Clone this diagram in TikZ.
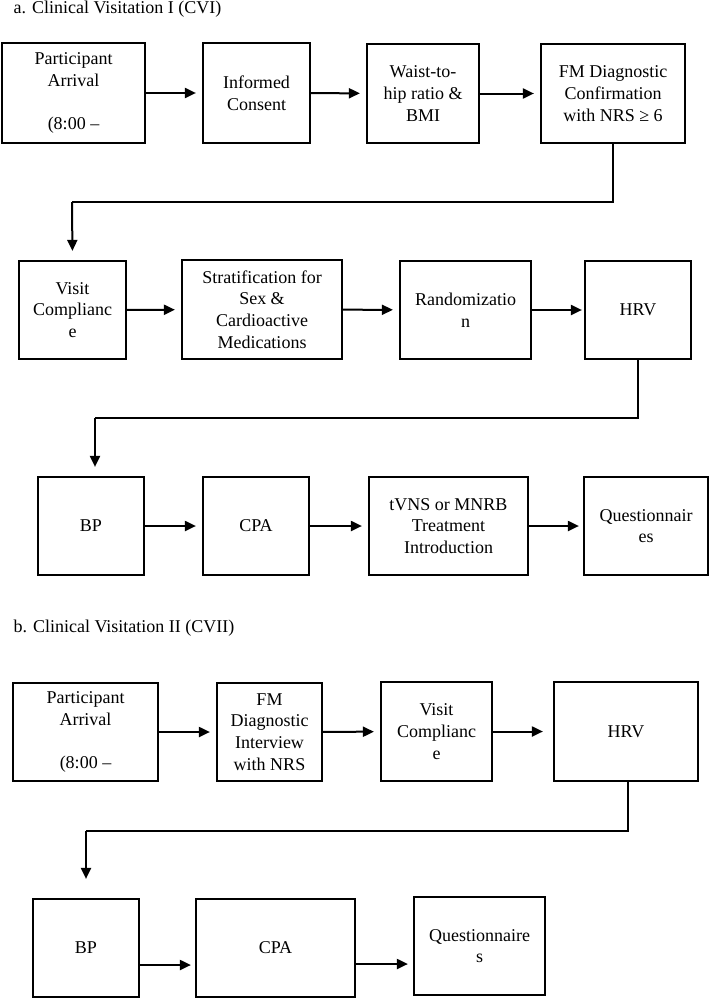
\documentclass[tikz,border=0pt]{standalone}
\usepackage{fontspec}
\setmainfont{Liberation Serif}
\usetikzlibrary{arrows.meta}
\begin{document}
\begin{tikzpicture}[
				x=1pt, y=-1pt,
				every node/.style={font=\fontsize{18}{21.7}\selectfont},
				box/.style={draw, line width=2.2pt, rectangle, align=center, inner sep=0pt},
				arr/.style={line width=2pt, -{Triangle[length=11pt,width=10pt]}, shorten >=6pt},
				elbow/.style={line width=1.3pt},
			]
			\useasboundingbox (0,0) rectangle (710,998);
			\node[anchor=base west] (titleA) at (10,14) {a. Clinical Visitation I (CVI)};
			\node[box, minimum width=143pt, minimum height=100pt] (arriveA) at (73.5,93) {Participant\\Arrival\\[21.7pt](8:00 --};
			\node[box, minimum width=107pt, minimum height=100pt] (consent) at (256.5,93) {Informed\\Consent};
			\node[box, minimum width=112pt, minimum height=99pt] (waist) at (423,93.5) {Waist-to-\\hip ratio \&\\BMI};
			\node[box, minimum width=144pt, minimum height=99pt] (fmconf) at (613,93.5) {FM Diagnostic\\Confirmation\\with NRS ≥ 6};
			\node[box, minimum width=107pt, minimum height=98pt] (complyA) at (72.5,310) {Visit\\Complianc\\e};
			\node[box, minimum width=160pt, minimum height=99pt] (strat) at (262,309.5) {Stratification for\\Sex \&\\Cardioactive\\Medications};
			\node[box, minimum width=131pt, minimum height=98pt] (random) at (465.5,310) {Randomizatio\\n};
			\node[box, minimum width=106pt, minimum height=98pt] (hrvA) at (638,310) {HRV};
			\node[box, minimum width=106pt, minimum height=98pt] (bpA) at (91,526) {BP};
			\node[box, minimum width=106pt, minimum height=98pt] (cpaA) at (256,526) {CPA};
			\node[box, minimum width=159pt, minimum height=98pt] (treat) at (448.5,526) {tVNS or MNRB\\Treatment\\Introduction};
			\node[box, minimum width=124pt, minimum height=98pt] (questA) at (646,526) {Questionnair\\es};
			\coordinate (bendA) at (72,202);
			\coordinate (bendB) at (95,418);
			\draw[arr] (arriveA) -- (consent);
			\draw[arr] (consent) -- (waist);
			\draw[arr] (waist) -- (fmconf);
			\draw[elbow] (fmconf.south) |- (bendA);
			\draw[arr, shorten >=9pt] (bendA) -- (complyA.north);
			\draw[arr] (complyA) -- (strat);
			\draw[arr] (strat) -- (random);
			\draw[arr, shorten >=2pt] (random) -- (hrvA);
			\draw[elbow] (hrvA.south) |- (bendB);
			\draw[arr, shorten >=9pt] (bendB) -- (bendB |- bpA.north);
			\draw[arr] (bpA) -- (cpaA);
			\draw[arr] (cpaA) -- (treat);
			\draw[arr, shorten >=4pt] (treat) -- (questA);
			\node[anchor=base west] (titleB) at (10,632) {b. Clinical Visitation II (CVII)};
			\node[box, minimum width=145pt, minimum height=98pt] (arriveB) at (85.5,732) {Participant\\Arrival\\[21.7pt](8:00 --};
			\node[box, minimum width=105pt, minimum height=98pt] (fmint) at (269.5,732) {FM\\Diagnostic\\Interview\\with NRS};
			\node[box, minimum width=111pt, minimum height=99pt] (complyB) at (436.5,731.5) {Visit\\Complianc\\e};
			\node[box, minimum width=144pt, minimum height=99pt] (hrvB) at (626,731.5) {HRV};
			\node[box, minimum width=106pt, minimum height=98pt] (bpB) at (86,948) {BP};
			\node[box, minimum width=159pt, minimum height=98pt] (cpaB) at (275.5,948) {CPA};
			\node[box, minimum width=131pt, minimum height=98pt] (questB) at (479.5,946) {Questionnaire\\s};
			\coordinate (bendC) at (86,831);
			\draw[arr] (arriveB) -- (fmint);
			\draw[arr] (fmint) -- (complyB);
			\draw[arr, shorten >=10pt] (complyB) -- (hrvB);
			\draw[elbow] ([xshift=2pt]hrvB.south) |- (bendC);
			\draw[arr, shorten >=19pt] (bendC) -- (bpB.north);
			\draw[arr, shorten >=4pt] ([yshift=-17pt]bpB.east) -- ([yshift=-17pt]cpaB.west);
			\draw[arr, shorten >=5pt] ([yshift=-16pt]cpaB.east) -- ([yshift=-16pt]cpaB.east -| questB.west);
\end{tikzpicture}
\end{document}
